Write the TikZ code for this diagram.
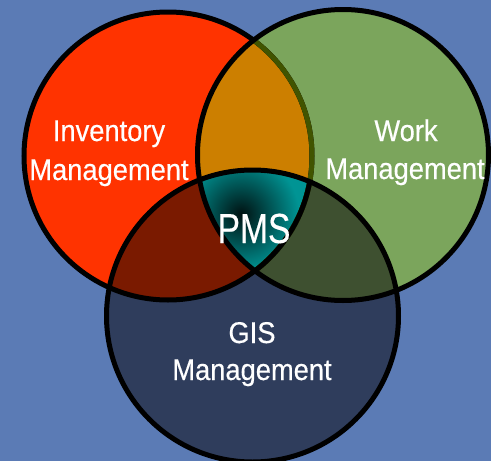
\documentclass[tikz,border=0pt]{standalone}
\usepackage{fontspec}
\setmainfont{Liberation Sans}
\newfontfamily\lblfont[FakeStretch=0.91,FakeBold=0.4]{Liberation Sans}
\newfontfamily\pmsfont[FakeStretch=0.8,FakeBold=0.4]{Liberation Sans}
\definecolor{bgblue}{HTML}{5B7BB5}
\definecolor{cred}{HTML}{FF3300}
\definecolor{cgreen}{HTML}{7BA55C}
\definecolor{cblue}{HTML}{2F3D5C}
\definecolor{corange}{HTML}{CC7F00}
\definecolor{cdred}{HTML}{7A1A00}
\definecolor{cdgreen}{HTML}{3E5030}
\definecolor{cteal}{HTML}{009494}
\definecolor{colive}{HTML}{415400}
\tikzset{
  lbl/.style={text=white, font=\lblfont\fontsize{30}{31}\selectfont, anchor=base, inner sep=0pt},
  pmslbl/.style={text=white, font=\pmsfont\fontsize{42}{43}\selectfont, anchor=base, inner sep=0pt},
  ring/.style={line width=5pt}
}
\begin{document}
\begin{tikzpicture}[x=1pt,y=-1pt]
\useasboundingbox (0,0) rectangle (491,461);
\fill[bgblue] (0,0) rectangle (491,461);
\coordinate (R) at (168,156);
\coordinate (G) at (343,155);
\coordinate (B) at (252.5,316);
\def\rR{144}\def\rG{145.5}\def\rB{146}
% base fills
\fill[cred] (R) circle (\rR);
\fill[cgreen] (G) circle (\rG);
\fill[cblue] (B) circle (\rB);
% pairwise intersections
\begin{scope}\clip (R) circle (\rR); \fill[corange] (G) circle (\rG); \end{scope}
\begin{scope}\clip (R) circle (\rR); \fill[cdred] (B) circle (\rB); \end{scope}
\begin{scope}\clip (G) circle (\rG); \fill[cdgreen] (B) circle (\rB); \end{scope}
% triple intersection
\begin{scope}
  \clip (R) circle (\rR); \clip (G) circle (\rG); \clip (B) circle (\rB);
  \fill[cteal] (150,150) rectangle (350,300);
  \shade[inner color=black!88!cteal, outer color=cteal] (241,214) circle (58);
\end{scope}
% outlines
\draw[ring] (R) circle (\rR);
\begin{scope}\clip (G) circle (\rG); \draw[ring, colive] (R) circle (\rR); \end{scope}
\draw[ring] (G) circle (\rG);
\draw[ring] (B) circle (\rB);
\begin{scope}\clip (G) circle (\rG); \clip (B) circle (\rB); \draw[ring] (R) circle (\rR); \end{scope}
% labels
\node[lbl] (inv1) at (109,141) {Inventory};
\node[lbl] (inv2) at (109,180) {Management};
\node[lbl] (work1) at (406,141) {Work};
\node[lbl] (work2) at (405,179) {Management};
\node[lbl] (gis1) at (252,343) {GIS};
\node[lbl] (gis2) at (252,380) {Management};
\node[pmslbl] (pms) at (254,243) {PMS};
\end{tikzpicture}
\end{document}
